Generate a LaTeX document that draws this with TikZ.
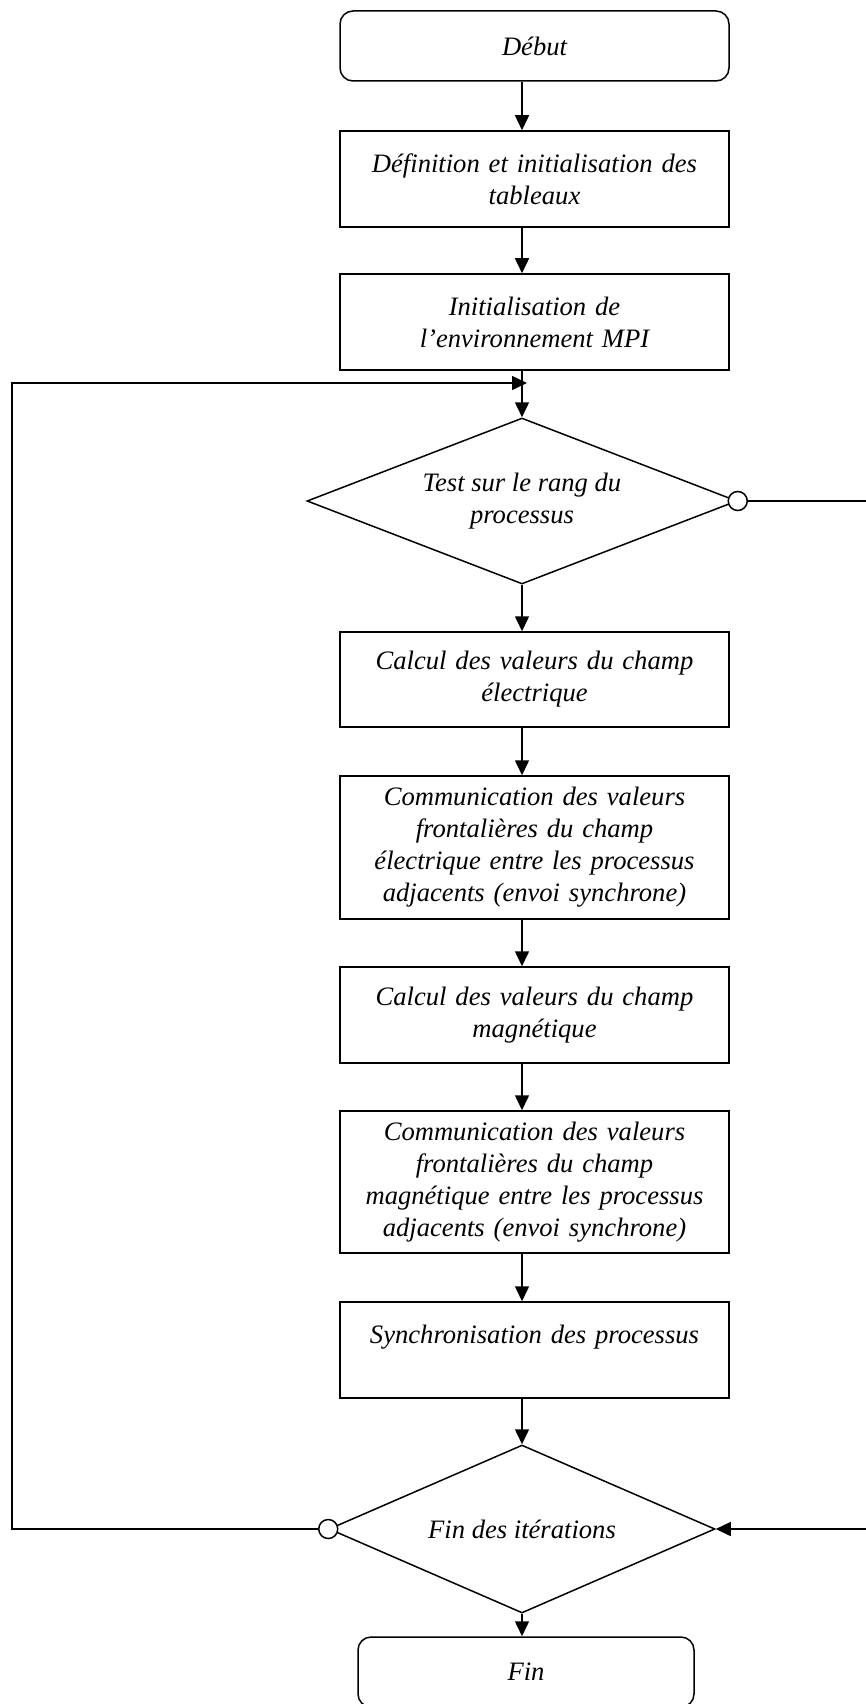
\documentclass[tikz,border=0pt]{standalone}
\usepackage{fontspec}
\setmainfont{Liberation Serif}
\usetikzlibrary{shapes.geometric,arrows.meta}
\begin{document}
\begin{tikzpicture}[x=1pt,y=-1pt,
  every node/.style={font=\fontsize{26.6}{32}\selectfont\itshape},
  arr/.style={line width=1.5pt,-{Triangle[length=15pt,width=14pt]}},
  box/.style={draw,line width=1.5pt,rectangle,minimum width=389pt,text width=375pt,inner xsep=7pt,inner ysep=0pt,align=center},
  term/.style={box,rounded corners=13pt},
  dec/.style={draw,line width=1.5pt,diamond,inner sep=0pt,align=center},
  knot/.style={draw,line width=1.5pt,circle,fill=white,minimum size=19pt,inner sep=0pt}]
\useasboundingbox (0,0) rectangle (866,1704);
\node[term,minimum height=70pt] (debut) at (534.5,46) {Début};
\node[box,minimum height=96pt] (def) at (534.5,179) {Définition et initialisation des\\tableaux};
\node[box,minimum height=96pt] (init) at (534.5,322) {Initialisation de\\l’environnement MPI};
\node[dec,minimum width=430pt,minimum height=166pt,aspect=2.6] (d1) at (522,501) {Test sur le rang du\\processus};
\node[box,minimum height=95pt] (calcE) at (534.5,679.5) {Calcul des valeurs du champ\\électrique};
\node[box,minimum height=143pt] (commE) at (534.5,847.5) {Communication des valeurs\\frontalières du champ\\électrique entre les processus\\adjacents (envoi synchrone)};
\node[box,minimum height=96pt] (calcM) at (534.5,1015) {Calcul des valeurs du champ\\magnétique};
\node[box,minimum height=142pt] (commM) at (534.5,1182) {Communication des valeurs\\frontalières du champ\\magnétique entre les processus\\adjacents (envoi synchrone)};
\node[box,minimum height=96pt] (sync) at (534.5,1350) {Synchronisation des processus\\~};
\node[dec,minimum width=386pt,minimum height=168pt,aspect=2.3] (d2) at (522,1529) {Fin des itérations};
\node[term,minimum width=336pt,text width=322pt,minimum height=70pt] (fin) at (526,1672) {Fin};
\node[knot] (k1) at (d1.east) {};
\node[knot] (k2) at (d2.west) {};
\coordinate (jn) at (527,383);
\coordinate (lx) at (12,0);
\coordinate (rx) at (870,0);
\draw[arr] (debut.south -| d1.north) -- (def.north -| d1.north);
\draw[arr] (def.south -| d1.north) -- (init.north -| d1.north);
\draw[arr] (init.south -| d1.north) -- (d1.north);
\draw[arr] (d1.south) -- (calcE.north -| d1.south);
\draw[arr] (calcE.south -| d1.south) -- (commE.north -| d1.south);
\draw[arr] (commE.south -| d1.south) -- (calcM.north -| d1.south);
\draw[arr] (calcM.south -| d1.south) -- (commM.north -| d1.south);
\draw[arr] (commM.south -| d1.south) -- (sync.north -| d1.south);
\draw[arr] (sync.south -| d2.north) -- (d2.north);
\draw[arr] (d2.south) -- (fin.north -| d2.south);
\draw[arr] (k2.west) -- (lx |- k2) -- (lx |- jn) -- (jn);
\draw[arr] (k1.east) -- (rx |- k1) -- (rx |- d2) -- (d2.east);
\end{tikzpicture}
\end{document}
